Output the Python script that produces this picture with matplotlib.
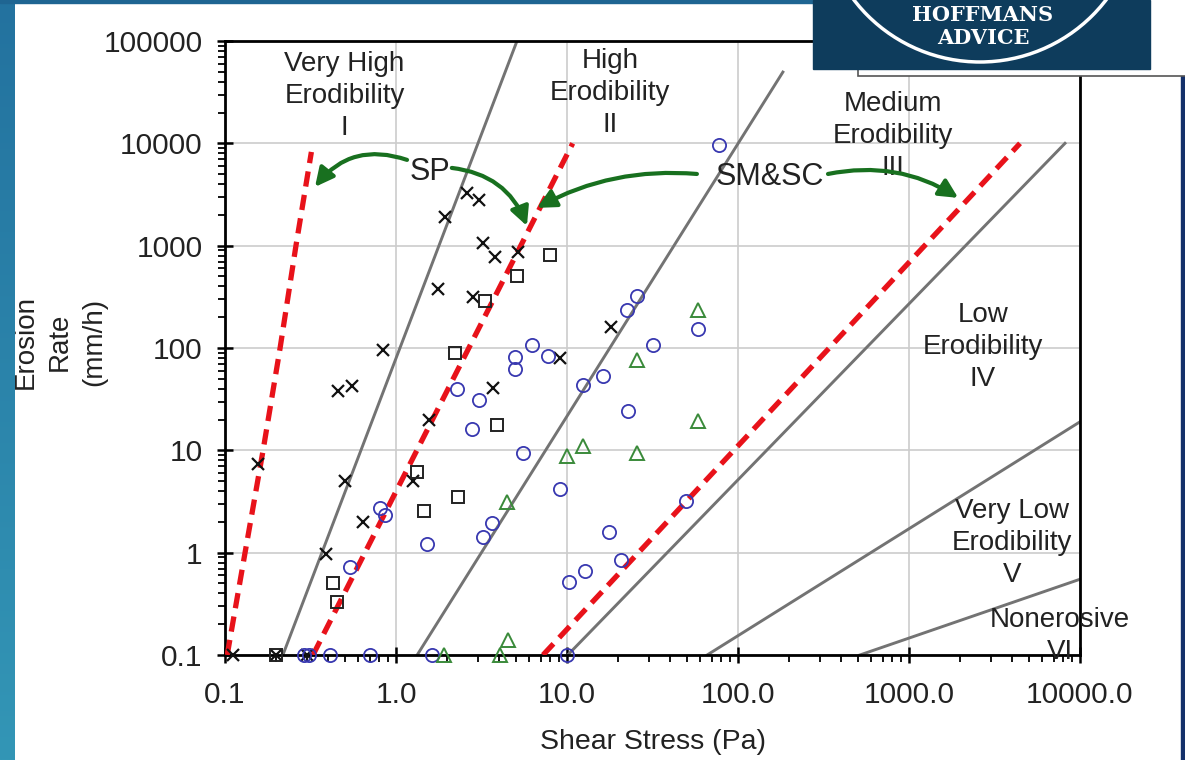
import numpy as np
import matplotlib.pyplot as plt
from matplotlib.patches import Rectangle, Circle

plt.rcParams['font.family'] = ['Liberation Sans', 'DejaVu Sans']

# shear stress (Pa) / erosion rate (mm/h)
cross_x = [0.111, 0.20, 0.30, 0.156, 0.39, 0.50, 0.64, 0.46, 0.55, 0.84, 1.26, 1.55,
           1.77, 1.94, 2.59, 3.05, 2.83, 3.24, 3.79, 5.19, 3.71, 9.1, 18.2]
cross_y = [0.1, 0.1, 0.1, 7.4, 0.98, 5.0, 1.98, 37.6, 42.8, 96, 5.0, 19.9,
           376, 1925, 3257, 2800, 316, 1058, 783, 875, 40.6, 80, 162]

square_x = [0.20, 0.43, 0.45, 1.32, 1.46, 2.31, 2.21, 3.31, 5.08, 7.96, 3.88]
square_y = [0.1, 0.51, 0.33, 6.2, 2.53, 3.5, 89, 285, 507, 813, 17.8]

circle_x = [0.29, 0.31, 0.41, 0.70, 1.62, 9.95, 0.54, 0.81, 0.86, 1.52, 2.27, 3.05,
            2.77, 4.97, 4.97, 6.22, 7.78, 12.4, 16.3, 22.3, 25.6, 32, 58.6, 22.8,
            5.55, 9.1, 3.24, 3.63, 49.7, 17.7, 20.6, 12.7, 10.3, 77.8]
circle_y = [0.1, 0.1, 0.1, 0.1, 0.1, 0.1, 0.72, 2.73, 2.35, 1.22, 40, 31,
            16.1, 81, 62, 107, 83, 43.7, 52.7, 236, 323, 107, 153, 24,
            9.5, 4.19, 1.42, 1.95, 3.17, 1.61, 0.855, 0.66, 0.52, 9640]

tri_x = [1.91, 4.05, 4.52, 4.48, 9.95, 12.4, 25.6, 25.6, 58.6, 58.6]
tri_y = [0.1, 0.1, 0.141, 3.1, 8.9, 11.1, 9.5, 76.7, 19.2, 236]

# category boundaries (grey) and fitted SP / SM&SC limits (red dashed)
bound_x = [[0.218, 5.1], [1.33, 183], [10.1, 8170], [66, 10000], [516, 10000]]
bound_y = [[0.1, 1e5], [0.1, 49700], [0.1, 10000], [0.1, 19], [0.1, 0.55]]

red1_x = [0.103, 0.131, 0.167, 0.21, 0.26, 0.32]
red1_y = [0.1, 1, 10, 100, 1000, 8240]
red2_x = [0.327, 10.8]
red2_y = [0.1, 10000]
red3_x = [7.24, 4460]
red3_y = [0.1, 10000]

xticks = [0.1, 1, 10, 100, 1000, 10000]
xtick_labels = ['0.1', '1.0', '10.0', '100.0', '1000.0', '10000.0']
yticks = [0.1, 1, 10, 100, 1000, 10000, 100000]
ytick_labels = ['0.1', '1', '10', '100', '1000', '10000', '100000']

W, H = 1185, 760
fig = plt.figure(figsize=(W / 100, H / 100), dpi=100)
fig.patch.set_facecolor('white')
ax = fig.add_axes([225 / W, 1 - 655 / H, 855 / W, 614 / H])
ax.set_xscale('log')
ax.set_yscale('log')
ax.set_xlim(0.1, 10000)
ax.set_ylim(0.1, 1e5)

ax.grid(which='major', color='#cccccc', lw=1.2, zorder=0)
ax.set_axisbelow(True)

for bx, by in zip(bound_x, bound_y):
    ax.plot(bx, by, color='#737373', lw=2.1, zorder=2)

for rx, ry in [(red1_x, red1_y), (red2_x, red2_y), (red3_x, red3_y)]:
    ax.plot(rx, ry, color='#e8121a', lw=3.8, dashes=(2.9, 1.6), zorder=3)

ax.plot(cross_x, cross_y, 'x', color='#111111', ms=8.5, mew=1.6, clip_on=False, zorder=4)
ax.plot(square_x, square_y, 's', mfc='none', mec='#222222', ms=9, mew=1.4, clip_on=False, zorder=4)
ax.plot(circle_x, circle_y, 'o', mfc='none', mec='#3838b0', ms=9.5, mew=1.3, clip_on=False, zorder=4)
ax.plot(tri_x, tri_y, '^', mfc='none', mec='#3a8a3a', ms=10.5, mew=1.4, clip_on=False, zorder=4)

for s in ax.spines.values():
    s.set_linewidth(2.0)
    s.set_color('black')

ax.set_xticks(xticks, xtick_labels)
ax.set_yticks(yticks, ytick_labels)
ax.tick_params(which='major', direction='inout', length=12, width=1.8, labelsize=21.5,
               top=False, right=False, labelcolor='#222222')
ax.tick_params(axis='y', which='major', pad=10)
ax.tick_params(axis='x', which='major', pad=13)
ax.tick_params(which='minor', direction='out', length=5, width=1.3, top=False, right=False)
ax.xaxis.set_minor_formatter(plt.NullFormatter())
ax.yaxis.set_minor_formatter(plt.NullFormatter())

ax.text(0.5, -0.142, 'Shear Stress (Pa)', transform=ax.transAxes, ha='center', va='center',
        fontsize=20.5, color='#222222')
ax.text(-0.193, 0.51, 'Erosion\nRate\n(mm/h)', transform=ax.transAxes, ha='center', va='center',
        rotation=90, fontsize=20, linespacing=1.42, color='#222222')

# category labels
cat_kw = dict(ha='center', va='center', fontsize=20, linespacing=1.3, color='#222222', zorder=5)
ax.text(0.50, 29000, 'Very High\nErodibility\nI', **cat_kw)
ax.text(17.8, 31000, 'High\nErodibility\nII', **cat_kw)
ax.text(805, 11800, 'Medium\nErodibility\nIII', **cat_kw)
ax.text(2710, 103, 'Low\nErodibility\nIV', **cat_kw)
ax.text(4000, 1.25, 'Very Low\nErodibility\nV', **cat_kw)
ax.text(7640, 0.155, 'Nonerosive\nVI', **cat_kw)

ax.text(1.58, 5260, 'SP', ha='center', va='center', fontsize=22, color='#222222', zorder=6)
ax.text(154, 4700, 'SM&SC', ha='center', va='center', fontsize=22, color='#222222', zorder=6)

green = '#18701f'
arrows = [((1.16, 6890), (0.336, 3750), 0.35),
          ((2.12, 5750), (5.83, 1560), -0.3),
          ((57.5, 5020), (6.68, 2340), 0.15),
          ((336, 5020), (1940, 2930), -0.2)]
for start, tip, rad in arrows:
    ax.annotate('', xy=tip, xytext=start,
                arrowprops=dict(arrowstyle='-|>', color=green, lw=3, mutation_scale=28,
                                connectionstyle='arc3,rad=%s' % rad, shrinkA=0, shrinkB=0),
                zorder=7)

# slide frame and logo
bg = fig.add_axes([0, 0, 1, 1], zorder=10)
bg.set_xlim(0, W)
bg.set_ylim(H, 0)
bg.axis('off')
bg.patch.set_alpha(0)

grad = np.linspace(0, 1, 256)[:, None]
bg.imshow(grad, extent=(0, 15, H, 0), cmap=plt.matplotlib.colors.LinearSegmentedColormap.from_list(
    'strip', ['#23729f', '#3396b6']), aspect='auto', zorder=1)
bg.add_patch(Rectangle((0, 0), W, 3, color='#1f6592', zorder=2))
bg.add_patch(Rectangle((1181, 0), 4, H, color='#14306a', zorder=2))

bg.add_patch(Rectangle((858, -5), 330, 81, facecolor='white', edgecolor='#555555', lw=1.2, zorder=2))
logo = Rectangle((813, 0), 337, 69, color='#0e3c5c', zorder=3)
bg.add_patch(logo)
ring = Circle((980, -97), 159, fill=False, edgecolor='white', lw=2.5, zorder=4)
bg.add_patch(ring)
ring.set_clip_path(logo)
bg.text(983, 15, 'HOFFMANS', ha='center', va='center', color='white', fontsize=15,
        family='DejaVu Serif', weight='bold', zorder=5)
bg.text(983, 38, 'ADVICE', ha='center', va='center', color='white', fontsize=15,
        family='DejaVu Serif', weight='bold', zorder=5)
bg.set_xlim(0, W)
bg.set_ylim(H, 0)

fig.savefig('out.png', dpi=100)
